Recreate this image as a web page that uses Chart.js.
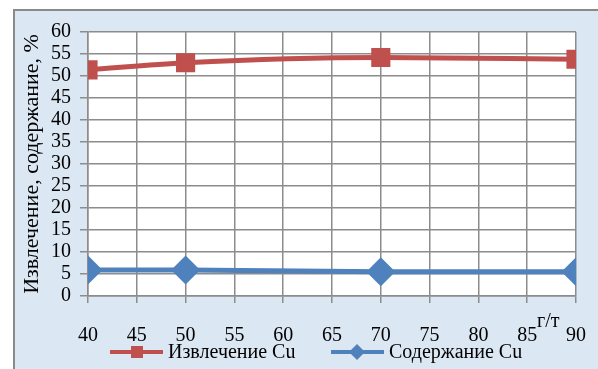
<!DOCTYPE html>
<html>
<head>
<meta charset="utf-8">
<script src="https://cdn.jsdelivr.net/npm/chart.js@4/dist/chart.umd.min.js"></script>
<style>
  html, body { margin: 0; padding: 0; background: #fff; }
  #wrap { width: 598px; height: 369px; }
</style>
</head>
<body>
<div id="wrap"><canvas id="chart" width="598" height="369"></canvas></div>
<script>
// data
const doses = [40, 50, 70, 90];
const recovery = [51.4, 53.0, 54.2, 53.8];   // Извлечение Cu
const content = [5.9, 5.9, 5.5, 5.5];        // Содержание Cu
const seriesNames = ['Извлечение Cu', 'Содержание Cu'];
const xTicks = [40, 45, 50, 55, 60, 65, 70, 75, 80, 85, 90];
const yTicks = [0, 5, 10, 15, 20, 25, 30, 35, 40, 45, 50, 55, 60];

const RED = '#c0504d';
const BLUE = '#4f81bd';
const FONT = '"Liberation Serif", "Times New Roman", serif';

// background frame + white plot area
const frame = {
  id: 'frame',
  beforeDraw(chart) {
    const { ctx, chartArea: { left, right, top, bottom } } = chart;
    ctx.save();
    ctx.fillStyle = '#dbe7f3';
    ctx.fillRect(13, 9, chart.width - 13, chart.height - 9);
    ctx.strokeStyle = '#8a8a8a';
    ctx.lineWidth = 2;
    ctx.beginPath();
    ctx.moveTo(14, chart.height);
    ctx.lineTo(14, 10);
    ctx.lineTo(chart.width, 10);
    ctx.stroke();
    ctx.fillStyle = '#ffffff';
    ctx.fillRect(left, top, right - left, bottom - top);
    ctx.restore();
  },
  afterDraw(chart) {
    const { ctx } = chart;
    ctx.save();
    // unit label
    ctx.font = '20px ' + FONT;
    ctx.fillStyle = '#000';
    ctx.textAlign = 'left';
    ctx.textBaseline = 'alphabetic';
    ctx.fillText('г/т', 537, 327);

    // legend, line with marker like the original
    const items = [
      { x: 110, color: RED, style: 'rect', name: seriesNames[0] },
      { x: 331, color: BLUE, style: 'rectRot', name: seriesNames[1] }
    ];
    const ly = 352;
    items.forEach(it => {
      ctx.strokeStyle = it.color;
      ctx.lineWidth = 4;
      ctx.beginPath();
      ctx.moveTo(it.x, ly);
      ctx.lineTo(it.x + 53, ly);
      ctx.stroke();
      ctx.fillStyle = it.color;
      if (it.style === 'rect') {
        ctx.fillRect(it.x + 21, ly - 6, 12, 12);
      } else {
        ctx.beginPath();
        ctx.moveTo(it.x + 26, ly - 8);
        ctx.lineTo(it.x + 34, ly);
        ctx.lineTo(it.x + 26, ly + 8);
        ctx.lineTo(it.x + 18, ly);
        ctx.closePath();
        ctx.fill();
      }
      ctx.fillStyle = '#000';
      ctx.font = '20px ' + FONT;
      ctx.textBaseline = 'middle';
      ctx.fillText(it.name, it.x + 58, ly + 1);
    });
    ctx.restore();
  }
};

const config = {
  type: 'line',
  data: {
    datasets: [
      {
        label: seriesNames[0],
        data: doses.map((d, i) => ({ x: d, y: recovery[i] })),
        borderColor: RED,
        backgroundColor: RED,
        borderWidth: 5,
        pointStyle: 'rect',
        pointRadius: 10,
        pointHoverRadius: 10,
        cubicInterpolationMode: 'monotone'
      },
      {
        label: seriesNames[1],
        data: doses.map((d, i) => ({ x: d, y: content[i] })),
        borderColor: BLUE,
        backgroundColor: BLUE,
        borderWidth: 5,
        pointStyle: 'rectRot',
        pointRadius: 11,
        pointHoverRadius: 11
      }
    ]
  },
  options: {
    responsive: false,
    animation: false,
    events: [],
    layout: { padding: { left: 13, top: 32, right: 22, bottom: 0 } },
    scales: {
      x: {
        type: 'linear',
        min: 40,
        max: 90,
        afterBuildTicks(axis) { axis.ticks = xTicks.map(v => ({ value: v })); },
        afterFit(axis) {
          axis.height = 73;
          axis.paddingLeft = 0;
          axis.paddingRight = 0;
        },
        grid: { color: '#8c8c8c', lineWidth: 1.5, tickLength: 7, drawTicks: true },
        border: { color: '#8c8c8c', width: 1.5 },
        ticks: {
          padding: 21,
          autoSkip: false,
          maxRotation: 0,
          color: '#000',
          font: { family: FONT, size: 20 }
        }
      },
      y: {
        min: 0,
        max: 60,
        afterBuildTicks(axis) { axis.ticks = yTicks.map(v => ({ value: v })); },
        afterFit(axis) {
          axis.width = 75;
          axis.paddingTop = 0;
          axis.paddingBottom = 0;
        },
        grid: { color: '#8c8c8c', lineWidth: 1.5, tickLength: 8 },
        border: { color: '#8c8c8c', width: 1.5 },
        title: {
          display: true,
          text: 'Извлечение, содержание, %',
          color: '#000',
          font: { family: FONT, size: 22 },
          padding: { top: 6, bottom: 0 }
        },
        ticks: {
          padding: 9,
          autoSkip: false,
          color: '#000',
          font: { family: FONT, size: 20 }
        }
      }
    },
    plugins: {
      legend: { display: false },
      tooltip: { enabled: false }
    }
  },
  plugins: [frame]
};

const myChart = new Chart(document.getElementById('chart'), config);
</script>
</body>
</html>
